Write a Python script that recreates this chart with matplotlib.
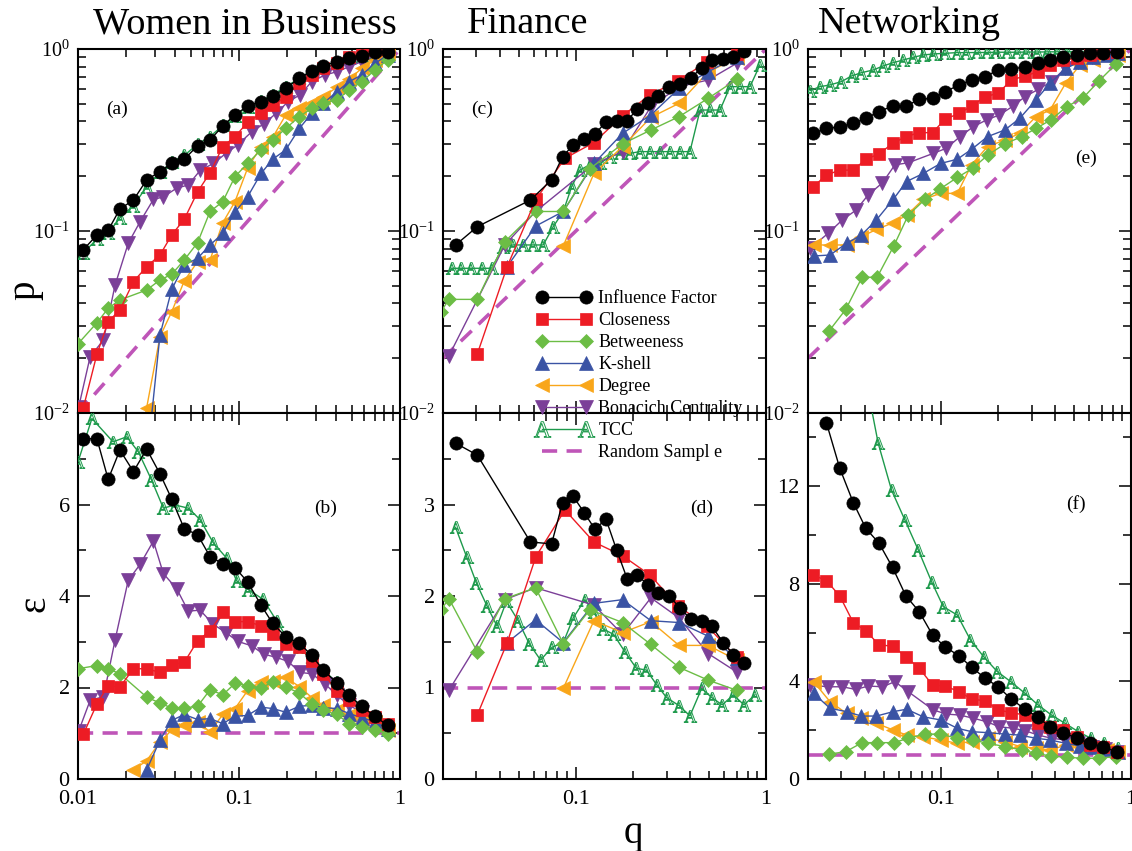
import numpy as np
import matplotlib
matplotlib.use("Agg")
import matplotlib.pyplot as plt
from matplotlib.lines import Line2D
from matplotlib.ticker import FixedLocator, LogLocator, NullFormatter

plt.rcParams['font.family'] = ['Liberation Serif', 'DejaVu Serif']
plt.rcParams['mathtext.fontset'] = 'custom'
plt.rcParams['mathtext.rm'] = 'Liberation Serif'
plt.rcParams['mathtext.it'] = 'Liberation Serif:italic'
plt.rcParams['axes.unicode_minus'] = False

# ---------------- Women in Business ----------------
wib_q = [0.0108, 0.0131, 0.0154, 0.0182, 0.0221, 0.0267, 0.0323, 0.0382, 0.0457, 0.0553,
         0.0661, 0.0793, 0.0944, 0.113, 0.137, 0.162, 0.195, 0.237, 0.283, 0.334,
         0.405, 0.484, 0.578, 0.700, 0.837]
wib_p_influence = [0.079, 0.095, 0.101, 0.132, 0.148, 0.191, 0.212, 0.235, 0.248, 0.294,
                   0.316, 0.378, 0.434, 0.486, 0.514, 0.552, 0.608, 0.690, 0.760, 0.807,
                   0.852, 0.889, 0.915, 0.959, 0.967]
wib_p_closeness = [0.0107, 0.0210, 0.0318, 0.0368, 0.0527, 0.0637, 0.0738, 0.0951, 0.116, 0.164,
                   0.209, 0.291, 0.330, 0.395, 0.443, 0.492, 0.547, 0.648, 0.720, 0.783,
                   0.834, 0.900, 0.947, 0.987, 1.0]
wib_p_tcc = [0.076, 0.090, 0.097, 0.118, 0.138, 0.175, 0.21, 0.24, 0.26, 0.30,
             0.33, 0.38, 0.43, 0.48, 0.52, 0.56, 0.62, 0.69, 0.76, 0.81,
             0.85, 0.89, 0.92, 0.95, 0.97]
wib_eps_influence = [7.44, 7.44, 6.55, 7.19, 6.72, 7.21, 6.67, 6.12, 5.47, 5.34,
                     4.86, 4.71, 4.62, 4.31, 3.80, 3.40, 3.11, 2.97, 2.70, 2.38,
                     2.10, 1.83, 1.59, 1.37, 1.17]
wib_eps_closeness = [0.98, 1.64, 2.04, 2.01, 2.41, 2.41, 2.33, 2.50, 2.55, 3.02,
                     3.24, 3.64, 3.44, 3.44, 3.35, 3.17, 2.95, 2.88, 2.59, 2.30,
                     1.93, 1.72, 1.50, 1.36, 1.21]

wib_between_q = [0.0100, 0.0131, 0.0154, 0.0182, 0.0267, 0.0323, 0.0382, 0.0457, 0.0553, 0.0661,
                 0.0793, 0.0944, 0.113, 0.137, 0.162, 0.195, 0.237, 0.283, 0.334, 0.405,
                 0.484, 0.578, 0.700, 0.837]
wib_p_between = [0.024, 0.0313, 0.0376, 0.0418, 0.0474, 0.0538, 0.0578, 0.0693, 0.0863, 0.128,
                 0.145, 0.199, 0.235, 0.279, 0.316, 0.366, 0.425, 0.472, 0.503, 0.525,
                 0.595, 0.662, 0.767, 0.87]
wib_eps_between = [2.41, 2.48, 2.41, 2.30, 1.79, 1.66, 1.55, 1.55, 1.59, 1.95,
                   1.84, 2.09, 2.04, 1.99, 2.12, 2.01, 1.88, 1.64, 1.50, 1.41,
                   1.21, 1.14, 1.07, 0.99]

wib_bonacich_q = [0.0101, 0.0119, 0.0144, 0.0170, 0.0205, 0.0243, 0.0294, 0.0339, 0.041, 0.0484,
                  0.0573, 0.0693, 0.083, 0.098, 0.120, 0.142, 0.170, 0.202, 0.239, 0.283,
                  0.342, 0.405, 0.484, 0.578, 0.693, 0.826]
wib_p_bonacich = [0.0108, 0.0204, 0.0252, 0.0505, 0.0855, 0.1125, 0.149, 0.154, 0.172, 0.179,
                  0.215, 0.235, 0.267, 0.297, 0.351, 0.387, 0.443, 0.514, 0.559, 0.662,
                  0.720, 0.750, 0.80, 0.852, 0.915, 0.947]
wib_eps_bonacich = [1.05, 1.72, 1.80, 3.04, 4.34, 4.69, 5.20, 4.49, 4.16, 3.67,
                    3.69, 3.38, 3.20, 3.01, 2.91, 2.73, 2.66, 2.57, 2.33, 2.30,
                    2.08, 1.83, 1.61, 1.46, 1.28, 1.14]

wib_kshell_q = [0.0267, 0.0323, 0.0382, 0.0457, 0.0553, 0.0661, 0.0793, 0.0944, 0.113, 0.137,
                0.162, 0.195, 0.237, 0.283, 0.334, 0.405, 0.484, 0.578, 0.700, 0.837]
wib_p_kshell = [0.0053, 0.0268, 0.0478, 0.065, 0.0708, 0.0838, 0.097, 0.127, 0.154, 0.207,
                0.248, 0.279, 0.366, 0.443, 0.503, 0.583, 0.662, 0.720, 0.834, 0.927]
wib_eps_kshell = [0.20, 0.85, 1.28, 1.41, 1.30, 1.32, 1.21, 1.37, 1.39, 1.57,
                  1.54, 1.46, 1.59, 1.61, 1.56, 1.54, 1.43, 1.34, 1.25, 1.10]

wib_degree_q = [0.0221, 0.0267, 0.0323, 0.0382, 0.0457, 0.0553, 0.0661, 0.0793, 0.0944, 0.113,
                0.137, 0.162, 0.195, 0.237, 0.283, 0.334, 0.405, 0.484, 0.578, 0.700, 0.837]
wib_p_degree = [0.0044, 0.0107, 0.0263, 0.036, 0.0531, 0.0679, 0.0693, 0.111, 0.145, 0.221,
                0.291, 0.327, 0.434, 0.472, 0.503, 0.547, 0.616, 0.681, 0.783, 0.87, 0.947]
wib_eps_degree = [0.20, 0.40, 0.81, 1.07, 1.17, 1.25, 1.03, 1.41, 1.54, 1.93,
                  2.12, 2.15, 2.22, 2.02, 1.78, 1.61, 1.50, 1.39, 1.32, 1.25, 1.07]

wib_tcc_eps_q = [0.0100, 0.0122, 0.0165, 0.0201, 0.0237, 0.0286, 0.0339, 0.0400, 0.0484, 0.0573,
                 0.0693, 0.0837, 0.0967, 0.114, 0.141, 0.171, 0.198, 0.239, 0.283, 0.334,
                 0.405, 0.484, 0.578, 0.700, 0.837]
wib_eps_tcc = [6.93, 7.88, 7.37, 7.48, 7.15, 6.54, 5.92, 5.99, 5.92, 5.67,
               5.16, 4.83, 4.33, 4.14, 3.93, 3.46, 3.09, 2.88, 2.66, 2.37,
               2.12, 1.83, 1.57, 1.36, 1.17]

# ---------------- Finance ----------------
fin_influence_q = [0.0233, 0.0303, 0.0577, 0.0745, 0.0851, 0.0968, 0.1106, 0.126, 0.144, 0.164,
                   0.186, 0.210, 0.240, 0.271, 0.310, 0.352, 0.401, 0.459, 0.518, 0.596,
                   0.673, 0.766]
fin_p_influence = [0.0838, 0.1056, 0.148, 0.191, 0.256, 0.297, 0.319, 0.340, 0.399, 0.404,
                   0.404, 0.466, 0.503, 0.552, 0.616, 0.642, 0.696, 0.783, 0.870, 0.877,
                   0.90, 0.979]
fin_eps_influence = [3.67, 3.54, 2.59, 2.57, 3.02, 3.09, 2.91, 2.73, 2.84, 2.50,
                     2.19, 2.23, 2.12, 2.03, 2.0, 1.87, 1.75, 1.73, 1.67, 1.49,
                     1.36, 1.27]

fin_closeness_q = [0.0303, 0.0435, 0.0616, 0.0876, 0.1244, 0.176, 0.245, 0.345, 0.491, 0.701]
fin_p_closeness = [0.0211, 0.0637, 0.149, 0.251, 0.306, 0.430, 0.559, 0.670, 0.852, 0.939]
fin_eps_closeness = [0.70, 1.49, 2.43, 2.94, 2.59, 2.44, 2.23, 1.89, 1.67, 1.33]

fin_between_q = [0.0195, 0.0215, 0.0303, 0.0423, 0.0614, 0.0858, 0.1185, 0.176, 0.248, 0.349,
                 0.497, 0.701]
fin_p_between = [0.036, 0.0421, 0.0421, 0.0874, 0.128, 0.128, 0.22, 0.301, 0.359, 0.425,
                 0.536, 0.681]
fin_eps_between = [1.85, 1.97, 1.39, 1.97, 2.09, 1.48, 1.85, 1.71, 1.47, 1.22,
                   1.08, 0.97]

fin_kshell_q = [0.0435, 0.0614, 0.0858, 0.1244, 0.176, 0.248, 0.349, 0.497, 0.701]
fin_p_kshell = [0.0637, 0.1064, 0.128, 0.235, 0.344, 0.434, 0.608, 0.75, 0.908]
fin_eps_kshell = [1.49, 1.74, 1.49, 1.92, 1.96, 1.73, 1.71, 1.56, 1.32]

fin_degree_q = [0.0858, 0.1244, 0.176, 0.248, 0.349, 0.497, 0.701]
fin_p_degree = [0.0827, 0.207, 0.291, 0.421, 0.503, 0.75, 0.889]
fin_eps_degree = [0.99, 1.73, 1.60, 1.72, 1.46, 1.46, 1.30]

fin_bonacich_q = [0.0215, 0.0423, 0.0614, 0.1244, 0.176, 0.248, 0.349, 0.497, 0.701]
fin_p_bonacich = [0.0206, 0.0838, 0.128, 0.233, 0.273, 0.482, 0.621, 0.676, 0.834]
fin_eps_bonacich = [0.97, 1.96, 2.09, 1.90, 1.58, 1.98, 1.76, 1.37, 1.17]

fin_tcc_q = [0.0222, 0.025, 0.0282, 0.0319, 0.036, 0.0415, 0.0468, 0.0528, 0.0596, 0.0673,
             0.076, 0.0858, 0.095, 0.105, 0.118, 0.134, 0.151, 0.171, 0.192, 0.217,
             0.245, 0.277, 0.313, 0.352, 0.398, 0.450, 0.507, 0.573, 0.647, 0.730,
             0.824, 0.929]
fin_p_tcc = [0.0624, 0.0624, 0.0624, 0.0624, 0.0624, 0.082, 0.0838, 0.0838, 0.0838, 0.0838,
             0.1056, 0.128, 0.175, 0.216, 0.231, 0.235, 0.256, 0.267, 0.267, 0.273,
             0.273, 0.273, 0.273, 0.273, 0.273, 0.462, 0.462, 0.462, 0.621, 0.621,
             0.621, 0.817]
fin_tcc_eps_q = [0.0233, 0.0266, 0.030, 0.0341, 0.0385, 0.0431, 0.0497, 0.0568, 0.0652, 0.075,
                 0.0858, 0.0968, 0.1115, 0.1244, 0.139, 0.158, 0.181, 0.208, 0.235, 0.266,
                 0.300, 0.350, 0.398, 0.459, 0.518, 0.589, 0.673, 0.766, 0.875]
fin_eps_tcc = [2.75, 2.43, 2.14, 1.89, 1.67, 1.94, 1.73, 1.48, 1.30, 1.44,
               1.49, 1.76, 1.96, 1.82, 1.64, 1.58, 1.39, 1.21, 1.19, 1.03,
               0.89, 0.80, 0.69, 0.99, 0.89, 0.81, 0.92, 0.81, 0.92]

# ---------------- Networking ----------------
net_influence_q = [0.0213, 0.025, 0.0294, 0.0346, 0.0403, 0.0473, 0.0557, 0.0655, 0.0769, 0.0904,
                   0.105, 0.125, 0.145, 0.171, 0.200, 0.235, 0.277, 0.325, 0.375, 0.440,
                   0.518, 0.608, 0.715, 0.841]
net_p_influence = [0.344, 0.366, 0.374, 0.390, 0.416, 0.453, 0.486, 0.486, 0.529, 0.536,
                   0.583, 0.634, 0.676, 0.705, 0.767, 0.773, 0.80, 0.834, 0.87, 0.90,
                   0.927, 0.947, 0.955, 0.967]
net_influence_eps_q = [0.025, 0.0294, 0.0346, 0.0403, 0.0473, 0.0557, 0.0655, 0.0769, 0.0904, 0.105,
                       0.125, 0.145, 0.171, 0.200, 0.235, 0.277, 0.325, 0.375, 0.440, 0.518,
                       0.608, 0.715, 0.841]
net_eps_influence = [14.6, 12.73, 11.33, 10.27, 9.66, 8.67, 7.50, 6.86, 5.90, 5.42,
                     5.04, 4.58, 4.13, 3.78, 3.27, 2.86, 2.53, 2.12, 1.90, 1.67,
                     1.46, 1.30, 1.12]

net_p_closeness = [0.175, 0.203, 0.216, 0.216, 0.248, 0.265, 0.303, 0.330, 0.347, 0.347,
                   0.411, 0.443, 0.486, 0.547, 0.571, 0.676, 0.711, 0.750, 0.817, 0.87,
                   0.889, 0.927, 0.947, 0.967]
net_eps_closeness = [8.36, 8.13, 7.50, 6.41, 6.08, 5.49, 5.45, 5.01, 4.54, 3.85,
                     3.81, 3.58, 3.27, 3.21, 2.83, 2.72, 2.62, 2.28, 2.14, 2.01,
                     1.73, 1.39, 1.30, 1.12]

net_bonacich_q = [0.0205, 0.0255, 0.0303, 0.0357, 0.0415, 0.0493, 0.0573, 0.0673, 0.0912, 0.107,
                  0.126, 0.148, 0.174, 0.203, 0.240, 0.277, 0.325, 0.382, 0.45, 0.528,
                  0.621, 0.730, 0.841]
net_p_bonacich = [0.0803, 0.097, 0.115, 0.130, 0.158, 0.184, 0.231, 0.237, 0.267, 0.285,
                  0.330, 0.374, 0.408, 0.434, 0.486, 0.547, 0.60, 0.662, 0.783, 0.852,
                  0.90, 0.935, 0.947]
net_eps_bonacich = [3.85, 3.78, 3.78, 3.67, 3.81, 3.78, 3.99, 3.58, 2.83, 2.66,
                    2.62, 2.49, 2.35, 2.14, 2.08, 1.98, 1.80, 1.67, 1.60, 1.46,
                    1.33, 1.22, 1.12]

net_kshell_q = [0.0214, 0.0261, 0.0319, 0.0382, 0.0458, 0.0561, 0.066, 0.0807, 0.0996, 0.122,
                0.145, 0.176, 0.217, 0.260, 0.316, 0.375, 0.455, 0.539, 0.634, 0.745, 0.857]
net_p_kshell = [0.0729, 0.0738, 0.0855, 0.095, 0.115, 0.149, 0.187, 0.207, 0.235, 0.248,
                0.281, 0.330, 0.359, 0.416, 0.525, 0.648, 0.783, 0.852, 0.90, 0.927, 0.947]
net_eps_kshell = [3.51, 2.90, 2.76, 2.58, 2.58, 2.76, 2.86, 2.55, 2.42, 2.08,
                  1.94, 1.90, 1.84, 1.80, 1.67, 1.60, 1.46, 1.35, 1.30, 1.22, 1.12]

net_p_degree = [0.0838, 0.0838, 0.0838, 0.093, 0.102, 0.111, 0.122, 0.149, 0.161, 0.161,
                0.231, 0.291, 0.316, 0.344, 0.425, 0.462, 0.653, 0.817, 0.87, 0.90, 0.927]
net_eps_degree = [3.99, 3.17, 2.69, 2.49, 2.28, 2.01, 1.80, 1.73, 1.60, 1.46,
                  1.53, 1.67, 1.53, 1.33, 1.26, 1.19, 1.39, 1.33, 1.26, 1.19, 1.12]

net_between_q = [0.0258, 0.0316, 0.0385, 0.0462, 0.0566, 0.0673, 0.0824, 0.0988, 0.122, 0.147,
                 0.177, 0.217, 0.266, 0.316, 0.379, 0.459, 0.561, 0.681, 0.834]
net_p_between = [0.0282, 0.0371, 0.0557, 0.0557, 0.083, 0.122, 0.149, 0.170, 0.197, 0.221,
                 0.262, 0.301, 0.330, 0.366, 0.408, 0.482, 0.540, 0.670, 0.827]
net_eps_between = [1.02, 1.12, 1.49, 1.49, 1.49, 1.67, 1.84, 1.84, 1.67, 1.60,
                   1.46, 1.33, 1.19, 1.05, 0.94, 0.89, 0.85, 0.85, 0.92]

net_tcc_q = [0.0205, 0.0231, 0.026, 0.030, 0.0339, 0.0382, 0.0441, 0.0497, 0.0561, 0.0633,
             0.0715, 0.0807, 0.091, 0.105, 0.121, 0.136, 0.154, 0.174, 0.196, 0.222,
             0.250, 0.282, 0.319, 0.360, 0.406, 0.459, 0.518, 0.584, 0.659, 0.745, 0.858]
net_p_tcc = [0.590, 0.621, 0.634, 0.662, 0.711, 0.741, 0.767, 0.807, 0.841, 0.870,
             0.90, 0.927, 0.939, 0.947, 0.955, 0.955, 0.957, 0.957, 0.96, 0.96,
             0.96, 0.962, 0.962, 0.964, 0.965, 0.967, 0.968, 0.97, 0.975, 0.98, 0.99]
net_tcc_eps_q = [0.040, 0.0468, 0.055, 0.0647, 0.076, 0.0893, 0.103, 0.122, 0.143, 0.168,
                 0.198, 0.233, 0.277, 0.325, 0.382, 0.45, 0.528, 0.614, 0.721, 0.857]
net_eps_tcc = [16.5, 13.76, 11.84, 10.61, 9.39, 8.09, 7.06, 6.72, 5.70, 5.01,
               4.40, 3.99, 3.51, 3.03, 2.62, 2.28, 1.94, 1.67, 1.46, 1.26]

# random sample reference: p = q, so epsilon = 1
wib_rand_q = [0.01, 1.0]
other_rand_q = [0.02, 1.0]
rand_eps = [1.0, 1.0]

LABELS = ["Influence Factor", "Closeness", "Betweeness", "K-shell", "Degree",
          "Bonacich Centrality", "TCC", "Random Sampl e"]

STYLE = {
    "Influence Factor": dict(color="black", marker="o", ms=9.5, lw=1.0, zorder=9),
    "Closeness": dict(color="#ED1C24", marker="s", ms=8.5, lw=1.0, zorder=8),
    "Betweeness": dict(color="#6CBD45", marker="D", ms=7.0, lw=1.0, zorder=7),
    "K-shell": dict(color="#3A53A4", marker="^", ms=9.5, lw=1.0, zorder=6),
    "Degree": dict(color="#F9A61A", marker="<", ms=9.5, lw=1.0, zorder=5),
    "Bonacich Centrality": dict(color="#7B3F98", marker="v", ms=9.5, lw=1.0, zorder=4),
    "TCC": dict(color="#1E9A4C", marker=r"$\mathrm{A}$", ms=9, lw=1.0, mfc="none",
                mew=0.7, zorder=3),
    "Random Sampl e": dict(color="#BF55B8", lw=2.6, dashes=(4.2, 2.6), zorder=2),
}


def draw(ax, label, q, y):
    st = dict(STYLE[label])
    if "mfc" not in st and "marker" in st:
        st["mec"] = st["color"]
        st["mew"] = 0.5
    ax.plot(q, y, **st)


def style_axes(ax, top):
    for s in ax.spines.values():
        s.set_linewidth(1.5)
    ax.set_xscale("log")
    ax.tick_params(which="both", direction="in", top=True, right=True, width=1.1)
    ax.tick_params(which="major", length=8.5, pad=6, labelsize=14.5 if top else 16)
    ax.tick_params(axis="x", which="major", pad=8)
    ax.tick_params(which="minor", length=5.8)
    ax.set_xticks([0.01, 0.1, 1], ["0.01", "0.1", "1"])
    ax.xaxis.set_minor_locator(LogLocator(base=10, subs=np.arange(2, 10), numticks=20))
    ax.xaxis.set_minor_formatter(NullFormatter())
    if top:
        ax.set_yscale("log")
        ax.set_ylim(0.01, 1)
        ax.yaxis.set_major_locator(FixedLocator([0.01, 0.1, 1]))
        ax.yaxis.set_minor_locator(LogLocator(base=10, subs=np.arange(2, 10), numticks=20))
        ax.yaxis.set_minor_formatter(NullFormatter())
        ax.tick_params(labelbottom=False)


W, H = 1132, 851
fig = plt.figure(figsize=(W / 100, H / 100), dpi=100)


def add_axes(x0, y0, x1, y1):
    return fig.add_axes([x0 / W, 1 - y1 / H, (x1 - x0) / W, (y1 - y0) / H])


col_left = [78, 443, 808]
col_right = [400, 766, 1131]
top_axes = [add_axes(col_left[i], 49, col_right[i], 413) for i in range(3)]
bot_axes = [add_axes(col_left[i], 413, col_right[i], 779) for i in range(3)]
for ax in top_axes:
    style_axes(ax, True)
for ax in bot_axes:
    style_axes(ax, False)

# (a) / (b)
ax = top_axes[0]
draw(ax, "Random Sampl e", wib_rand_q, wib_rand_q)
draw(ax, "TCC", wib_q, wib_p_tcc)
draw(ax, "Bonacich Centrality", wib_bonacich_q, wib_p_bonacich)
draw(ax, "Degree", wib_degree_q, wib_p_degree)
draw(ax, "K-shell", wib_kshell_q, wib_p_kshell)
draw(ax, "Betweeness", wib_between_q, wib_p_between)
draw(ax, "Closeness", wib_q, wib_p_closeness)
draw(ax, "Influence Factor", wib_q, wib_p_influence)
ax.set_xlim(0.01, 1)

ax = bot_axes[0]
draw(ax, "Random Sampl e", wib_rand_q, rand_eps)
draw(ax, "TCC", wib_tcc_eps_q, wib_eps_tcc)
draw(ax, "Bonacich Centrality", wib_bonacich_q, wib_eps_bonacich)
draw(ax, "Degree", wib_degree_q, wib_eps_degree)
draw(ax, "K-shell", wib_kshell_q, wib_eps_kshell)
draw(ax, "Betweeness", wib_between_q, wib_eps_between)
draw(ax, "Closeness", wib_q, wib_eps_closeness)
draw(ax, "Influence Factor", wib_q, wib_eps_influence)
ax.set_xlim(0.01, 1)
ax.set_ylim(0, 8)
ax.set_yticks([0, 2, 4, 6, 8], ["0", "2", "4", "6", ""])
ax.set_yticks([1, 3, 5, 7], minor=True)

# (c) / (d)
ax = top_axes[1]
draw(ax, "Random Sampl e", other_rand_q, other_rand_q)
draw(ax, "TCC", fin_tcc_q, fin_p_tcc)
draw(ax, "Bonacich Centrality", fin_bonacich_q, fin_p_bonacich)
draw(ax, "Degree", fin_degree_q, fin_p_degree)
draw(ax, "K-shell", fin_kshell_q, fin_p_kshell)
draw(ax, "Betweeness", fin_between_q, fin_p_between)
draw(ax, "Closeness", fin_closeness_q, fin_p_closeness)
draw(ax, "Influence Factor", fin_influence_q, fin_p_influence)
ax.set_xlim(0.02, 1)

ax = bot_axes[1]
draw(ax, "Random Sampl e", other_rand_q, rand_eps)
draw(ax, "TCC", fin_tcc_eps_q, fin_eps_tcc)
draw(ax, "Bonacich Centrality", fin_bonacich_q, fin_eps_bonacich)
draw(ax, "Degree", fin_degree_q, fin_eps_degree)
draw(ax, "K-shell", fin_kshell_q, fin_eps_kshell)
draw(ax, "Betweeness", fin_between_q, fin_eps_between)
draw(ax, "Closeness", fin_closeness_q, fin_eps_closeness)
draw(ax, "Influence Factor", fin_influence_q, fin_eps_influence)
ax.set_xlim(0.02, 1)
ax.set_ylim(0, 4)
ax.set_yticks([0, 1, 2, 3, 4], ["0", "1", "2", "3", ""])
ax.set_yticks([0.5, 1.5, 2.5, 3.5], minor=True)

# (e) / (f)
ax = top_axes[2]
draw(ax, "Random Sampl e", other_rand_q, other_rand_q)
draw(ax, "TCC", net_tcc_q, net_p_tcc)
draw(ax, "Bonacich Centrality", net_bonacich_q, net_p_bonacich)
draw(ax, "Degree", net_kshell_q, net_p_degree)
draw(ax, "K-shell", net_kshell_q, net_p_kshell)
draw(ax, "Betweeness", net_between_q, net_p_between)
draw(ax, "Closeness", net_influence_q, net_p_closeness)
draw(ax, "Influence Factor", net_influence_q, net_p_influence)
ax.set_xlim(0.02, 1)

ax = bot_axes[2]
draw(ax, "Random Sampl e", other_rand_q, rand_eps)
draw(ax, "TCC", net_tcc_eps_q, net_eps_tcc)
draw(ax, "Bonacich Centrality", net_bonacich_q, net_eps_bonacich)
draw(ax, "Degree", net_kshell_q, net_eps_degree)
draw(ax, "K-shell", net_kshell_q, net_eps_kshell)
draw(ax, "Betweeness", net_between_q, net_eps_between)
draw(ax, "Closeness", net_influence_q, net_eps_closeness)
draw(ax, "Influence Factor", net_influence_eps_q, net_eps_influence)
ax.set_xlim(0.02, 1)
ax.set_ylim(0, 15)
ax.set_yticks([0, 4, 8, 12], ["0", "4", "8", "12"])
ax.set_yticks([2, 6, 10, 14], minor=True)

# panel letters
for ax, letter, (fx, fy) in zip(
        top_axes + bot_axes, "acebdf",
        [(0.12, 0.835), (0.12, 0.835), (0.86, 0.70),
         (0.77, 0.74), (0.80, 0.74), (0.83, 0.75)]):
    ax.text(fx, fy, "(%s)" % letter, transform=ax.transAxes, fontsize=14,
            ha="center", va="center")

# column titles
fig.text(93 / W, 1 - 33 / H, "Women in Business", fontsize=27.5, va="baseline")
fig.text(467 / W, 1 - 33 / H, "Finance", fontsize=27.5, va="baseline")
fig.text(818 / W, 1 - 33 / H, "Networking", fontsize=27.5, va="baseline")

# axis labels
fig.text(25 / W, 1 - 290 / H, "p", fontsize=28, rotation=90, ha="center", va="center")
fig.text(35 / W, 1 - 604 / H, "ε", fontsize=28, rotation=90, ha="center", va="center")
fig.text(633 / W, 1 - 833 / H, "q", fontsize=28, ha="center", va="center")

# legend
handles = []
for label in LABELS:
    st = dict(STYLE[label])
    st.pop("zorder", None)
    if label == "TCC":
        st["ms"] = 12
    elif "marker" in st:
        st["mec"] = st["color"]
        st["mew"] = 0.5
    handles.append(Line2D([], [], **st))
fig.legend(handles, LABELS, loc="upper left", bbox_to_anchor=(537 / W, 1 - 290 / H),
           frameon=False, numpoints=2, handlelength=3.0, handletextpad=0.4,
           labelspacing=0.28, borderpad=0, borderaxespad=0, fontsize=13)

fig.savefig("out.png", dpi=100)
